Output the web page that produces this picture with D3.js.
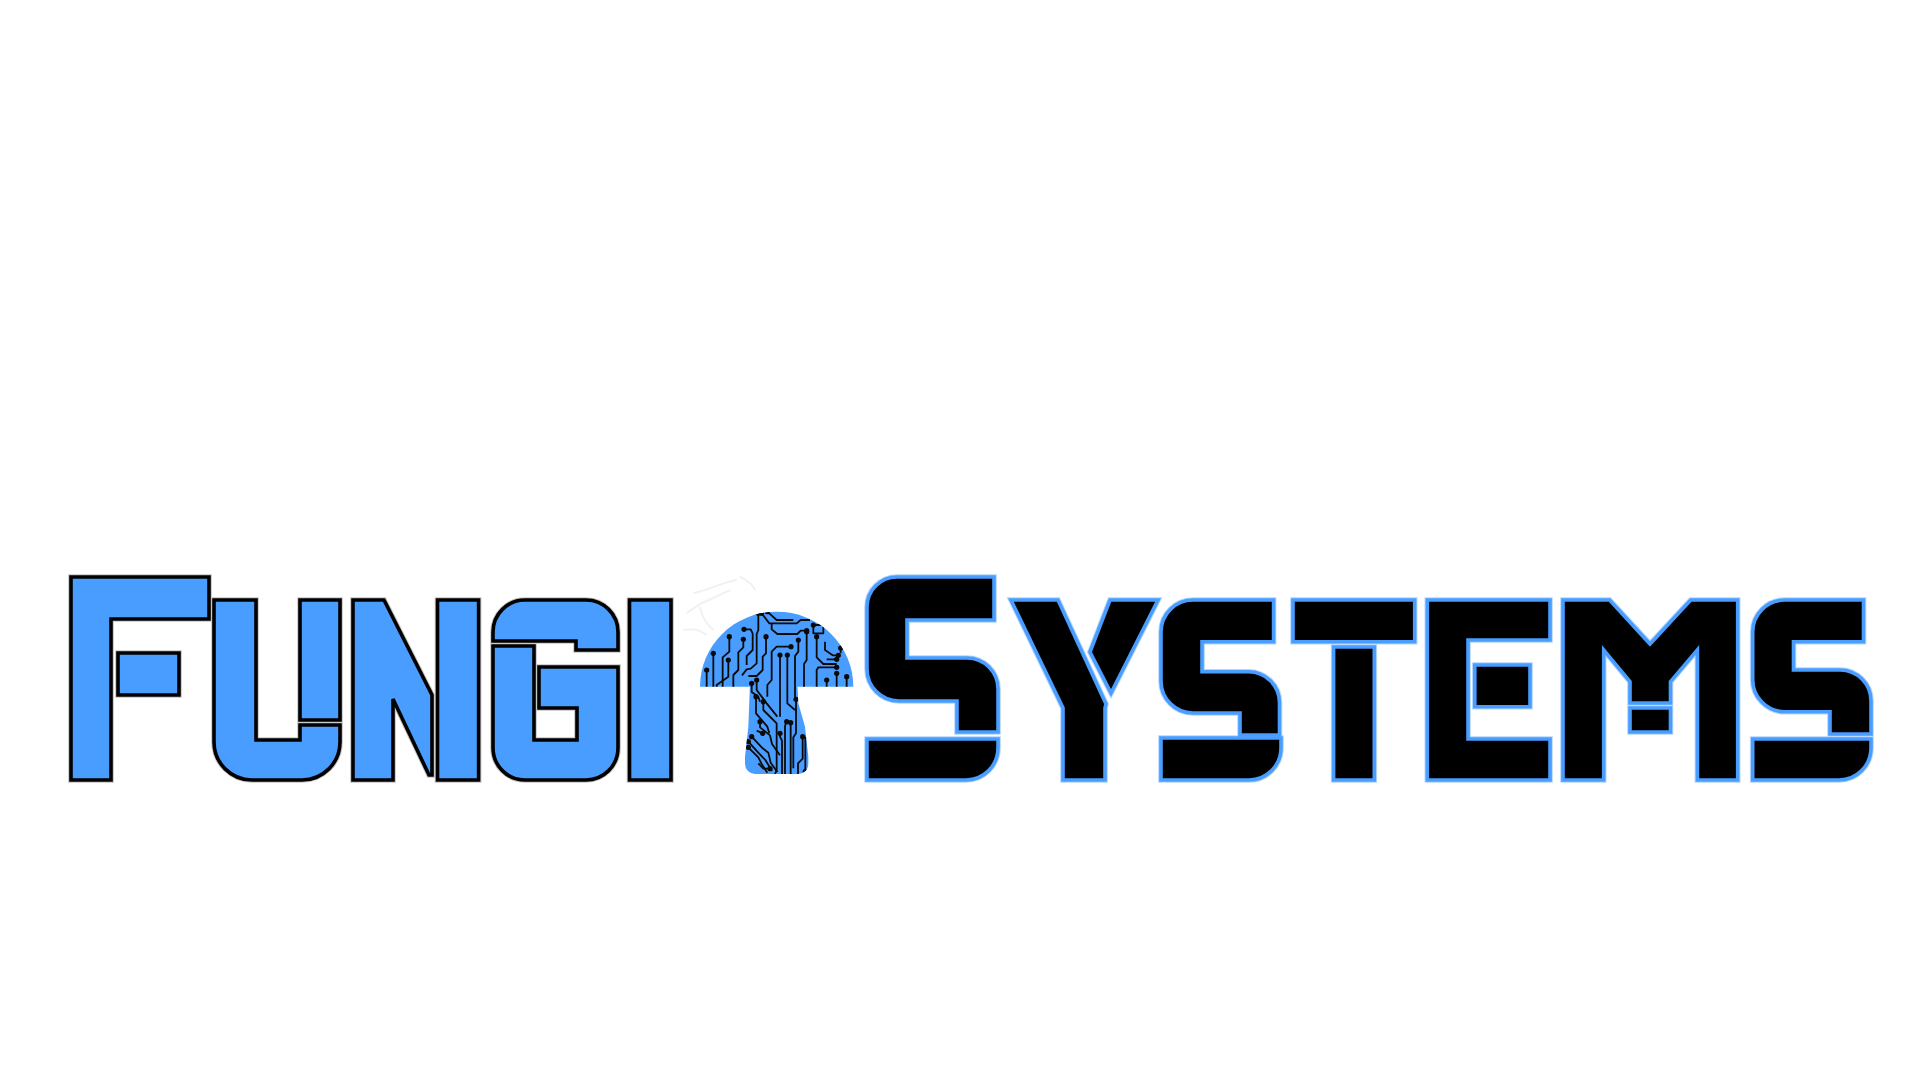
<!DOCTYPE html>
<html>
<head>
<meta charset="utf-8">
<script src="https://cdn.jsdelivr.net/npm/d3@7"></script>
<style>
  html, body { margin: 0; padding: 0; background: #fff; }
  svg { display: block; }
</style>
</head>
<body>
<div id="logo"></div>
<script>
/* Fungi Systems logo, drawn as outlined block letters */

const W = 1920, H = 1080;
const BLUE = "#489dff";

// word layout: letters and the left edge of each one (px)
const word1 = ["F", "U", "N", "G", "I"];
const word1Left = [71, 214, 353, 493, 629.5];
const word2 = ["Sbig", "Y", "S", "T", "E", "M", "S2"];
const word2Left = [867, 1011, 1161, 1293, 1427.3, 1563, 1752.7];

// glyph outlines: [dx from letter left, height above baseline, corner radius]
const glyphF = [
  [[0, 0], [0, 203], [138, 203], [138, 161], [40, 161], [40, 0]],
  [[47, 85], [47, 127], [108, 127], [108, 85]]
];
const glyphU = [
  [[0, 180], [42, 180], [42, 40], [86, 40], [86, 55], [126, 55], [126, 0, 38], [0, 0, 38]],
  [[86, 60], [86, 180], [126, 180], [126, 60]]
];
const glyphN = [
  [[0, 0], [0, 180], [31, 180], [79, 85], [79, 5], [76, 5], [40, 81], [40, 0]],
  [[84.5, 0], [84.5, 180], [125.6, 180], [125.6, 0]]
];
const glyphG = [
  [[0, 139], [0, 180, 32], [125, 180, 32], [125, 130], [83, 130], [83, 139]],
  [[0, 134], [41, 134], [41, 40], [84, 40], [84, 72], [46, 72], [46, 113], [125, 113], [125, 0, 32], [0, 0, 32]]
];
const glyphI = [
  [[0, 0], [0, 180], [41.5, 180], [41.5, 0]]
];
const glyphSbig = [
  [[0, 203, 30], [127, 203], [127, 160], [40, 160], [40, 122], [131, 122, 31], [131, 48], [90, 48], [90, 79], [0, 79, 32]],
  [[0, 41], [131, 41], [131, 0, 32], [0, 0]]
];
const glyphY = [
  [[0, 180], [47, 180], [95, 76], [94, 72], [94, 0], [52, 0], [52, 72]],
  [[99, 180], [147, 180], [100, 87], [79, 128]]
];
const glyphS = [
  [[0, 180, 32], [112.6, 180], [112.6, 138.3], [41, 138.3], [41, 108.3], [118.5, 108.3, 31], [118.5, 45], [79, 45], [79, 67], [0, 67, 32]],
  [[0, 42], [120, 42], [120, 0, 32], [0, 0]]
];
const glyphT = [
  [[0, 138.3], [0, 180], [121.7, 180], [121.7, 138.3]],
  [[40.6, 0], [40.6, 133], [81.3, 133], [81.3, 0]]
];
const glyphE = [
  [[0, 0], [0, 180], [122.7, 180], [122.7, 140], [40.7, 140], [40.7, 41], [122.7, 41], [122.7, 0]],
  [[47.5, 73.3], [47.5, 115], [102.7, 115], [102.7, 73.3]]
];
const glyphM = [
  [[0, 0], [0, 180], [46.6, 180], [87, 136], [127.7, 180], [174.7, 180], [174.7, 0], [134.4, 0], [134.4, 130],
   [107.5, 98.3], [107.5, 77], [67, 77], [67, 98.3], [40.7, 130], [40.7, 0]],
  [[67, 48], [67, 72], [107.5, 72], [107.5, 48]]
];
const glyphS2 = [
  [[0, 180, 32], [110.8, 180], [110.8, 138.3], [40.8, 138.3], [40.8, 110], [118.3, 110, 31], [118.3, 46], [77.3, 46], [77.3, 68.3], [0, 68.3, 32]],
  [[0, 41], [118.3, 41], [118.3, 0, 32], [0, 0]]
];

const glyphs = {
  F: glyphF, U: glyphU, N: glyphN, G: glyphG, I: glyphI,
  Sbig: glyphSbig, Y: glyphY, S: glyphS, T: glyphT, E: glyphE, M: glyphM, S2: glyphS2
};

// mushroom icon, in its own little grid (600 x 660 units)
const capShape = { cx: 290, cy: 350, rx: 230, ry: 225 };
const stemShape = [[210, 340], [205, 470], [195, 560], [195, 612, 10], [385, 612, 10], [385, 560], [375, 470], [355, 400], [352, 340]];

// circuit traces on the mushroom (first point gets a pad)
const traces = [
  [[148, 200], [148, 245], [128, 262], [128, 360]],
  [[190, 208], [190, 232], [175, 247], [175, 300], [160, 315], [160, 360]],
  [[192, 178], [212, 178], [218, 190], [218, 240], [200, 258], [200, 285]],
  [[145, 270], [145, 320], [110, 345], [110, 360]],
  [[100, 250], [100, 360]],
  [[80, 300], [80, 360]],
  [[235, 130], [235, 180], [230, 192], [230, 280], [212, 296], [200, 298], [186, 316]],
  [[258, 200], [258, 250], [248, 260], [248, 300], [230, 318], [205, 318]],
  [[245, 130], [268, 160], [350, 160], [362, 150], [390, 150]],
  [[262, 125], [290, 150], [340, 150]],
  [[380, 182], [362, 182], [352, 192], [292, 192], [275, 178], [275, 160]],
  [[333, 230], [290, 230], [275, 245], [275, 330], [262, 345], [262, 380]],
  [[300, 255], [300, 440]],
  [[322, 255], [322, 400], [345, 420]],
  [[355, 210], [355, 245], [345, 258], [345, 385]],
  [[380, 185], [380, 270], [372, 282], [372, 360]],
  [[410, 200], [410, 262], [430, 282], [470, 282]],
  [[475, 256], [458, 256], [435, 240], [435, 215]],
  [[470, 268], [440, 268]],
  [[470, 292], [415, 292], [410, 300], [410, 360]],
  [[440, 330], [440, 360]],
  [[470, 310], [470, 360]],
  [[500, 320], [500, 360]],
  [[482, 234], [482, 250]],
  [[400, 165], [430, 165], [430, 190], [400, 190], [400, 165]],
  [[215, 340], [215, 366], [235, 380], [240, 395]],
  [[228, 380], [228, 430], [262, 470], [268, 490]],
  [[230, 330], [230, 360], [260, 400], [292, 440]],
  [[250, 395], [250, 420], [290, 460], [290, 600], [285, 612]],
  [[300, 490], [300, 500], [306, 512], [306, 612]],
  [[320, 455], [315, 468], [315, 612]],
  [[332, 458], [332, 612]],
  [[348, 388], [348, 490], [340, 502], [340, 595]],
  [[368, 500], [368, 566], [354, 580], [354, 612]],
  [[376, 604], [376, 500]],
  [[248, 490], [230, 482]],
  [[240, 455], [240, 472], [270, 496], [276, 522], [300, 556]],
  [[215, 500], [248, 535], [265, 548], [272, 578], [292, 606]],
  [[205, 515], [232, 545], [256, 570], [276, 602]],
  [[205, 532], [235, 562], [245, 582], [262, 608]],
  [[270, 596], [250, 596], [235, 580]]
];

// faint sketch marks above the cap
const sketch = [
  [[20, 130], [60, 100], [110, 80], [150, 60]],
  [[40, 70], [90, 55], [130, 40], [170, 30]],
  [[60, 110], [70, 150], [100, 180]],
  [[180, 20], [215, 40], [225, 60]],
  [[10, 180], [50, 175], [80, 195]]
];

/* ---------- drawing ---------- */

const svg = d3.select("#logo").append("svg")
  .attr("width", W)
  .attr("height", H)
  .attr("viewBox", `0 0 ${W} ${H}`);

// height above baseline -> screen y
const yScale = d3.scaleLinear().domain([0, 180]).range([780, 600]);

// closed outline with optional rounded corners
function outline(pts, sx, sy) {
  const P = pts.map(d => [sx(d[0]), sy(d[1]), d[2] || 0]);
  const n = P.length;
  const p = d3.path();
  const a = P[n - 1], b = P[0];
  p.moveTo((a[0] + b[0]) / 2, (a[1] + b[1]) / 2);
  for (let i = 0; i < n; i++) {
    const c = P[i], nx = P[(i + 1) % n];
    if (c[2]) p.arcTo(c[0], c[1], nx[0], nx[1], c[2]);
    else p.lineTo(c[0], c[1]);
  }
  p.closePath();
  return p.toString();
}

function drawWord(letters, lefts, fill, stroke, halo, cls) {
  const g = svg.append("g").attr("class", cls);
  letters.forEach((name, i) => {
    const xScale = d3.scaleLinear().domain([0, 100]).range([lefts[i], lefts[i] + 100]);
    // soft halo under the outline
    g.selectAll(null)
      .data(glyphs[name])
      .enter().append("path")
      .attr("d", d => outline(d, xScale, yScale))
      .attr("fill", "none")
      .attr("stroke", halo)
      .attr("stroke-width", 5.6);
    g.selectAll(null)
      .data(glyphs[name])
      .enter().append("path")
      .attr("d", d => outline(d, xScale, yScale))
      .attr("fill", fill)
      .attr("stroke", stroke)
      .attr("stroke-width", 3.6)
      .attr("stroke-linejoin", "miter");
  });
}

drawWord(word1, word1Left, BLUE, "#000", "#c4c4c4", "fungi");
drawWord(word2, word2Left, "#000", BLUE, "#b5d6ff", "systems");

/* mushroom */
const mx = d3.scaleLinear().domain([0, 600]).range([680, 880]);
const my = d3.scaleLinear().domain([0, 660]).range([570, 790]);

const k = (mx(1) - mx(0));
const capPath = `M${mx(capShape.cx - capShape.rx)},${my(capShape.cy)}
  A${capShape.rx * k},${capShape.ry * k} 0 0 1 ${mx(capShape.cx + capShape.rx)},${my(capShape.cy)} Z`;
const stemPath = outline(stemShape, mx, my);

const defs = svg.append("defs");
const clip = defs.append("clipPath").attr("id", "mushClip");
clip.append("path").attr("d", capPath);
clip.append("path").attr("d", stemPath);

const mush = svg.append("g").attr("class", "mushroom");

mush.selectAll("path.sketch")
  .data(sketch)
  .enter().append("path")
  .attr("class", "sketch")
  .attr("d", d3.line().x(d => mx(d[0])).y(d => my(d[1])).curve(d3.curveBasis))
  .attr("fill", "none")
  .attr("stroke", "#f1f1f1")
  .attr("stroke-width", 2);

mush.append("path").attr("d", capPath).attr("fill", BLUE);
mush.append("path").attr("d", stemPath).attr("fill", BLUE);

const circuit = mush.append("g").attr("clip-path", "url(#mushClip)");

circuit.selectAll("path.trace")
  .data(traces)
  .enter().append("path")
  .attr("class", "trace")
  .attr("d", d3.line().x(d => mx(d[0])).y(d => my(d[1])))
  .attr("fill", "none")
  .attr("stroke", "#0a0a0a")
  .attr("stroke-width", 1.8)
  .attr("stroke-linejoin", "round");

circuit.selectAll("circle.pad")
  .data(traces)
  .enter().append("circle")
  .attr("class", "pad")
  .attr("cx", d => mx(d[0][0]))
  .attr("cy", d => my(d[0][1]))
  .attr("r", 2.6)
  .attr("fill", "#0a0a0a");
</script>
</body>
</html>
